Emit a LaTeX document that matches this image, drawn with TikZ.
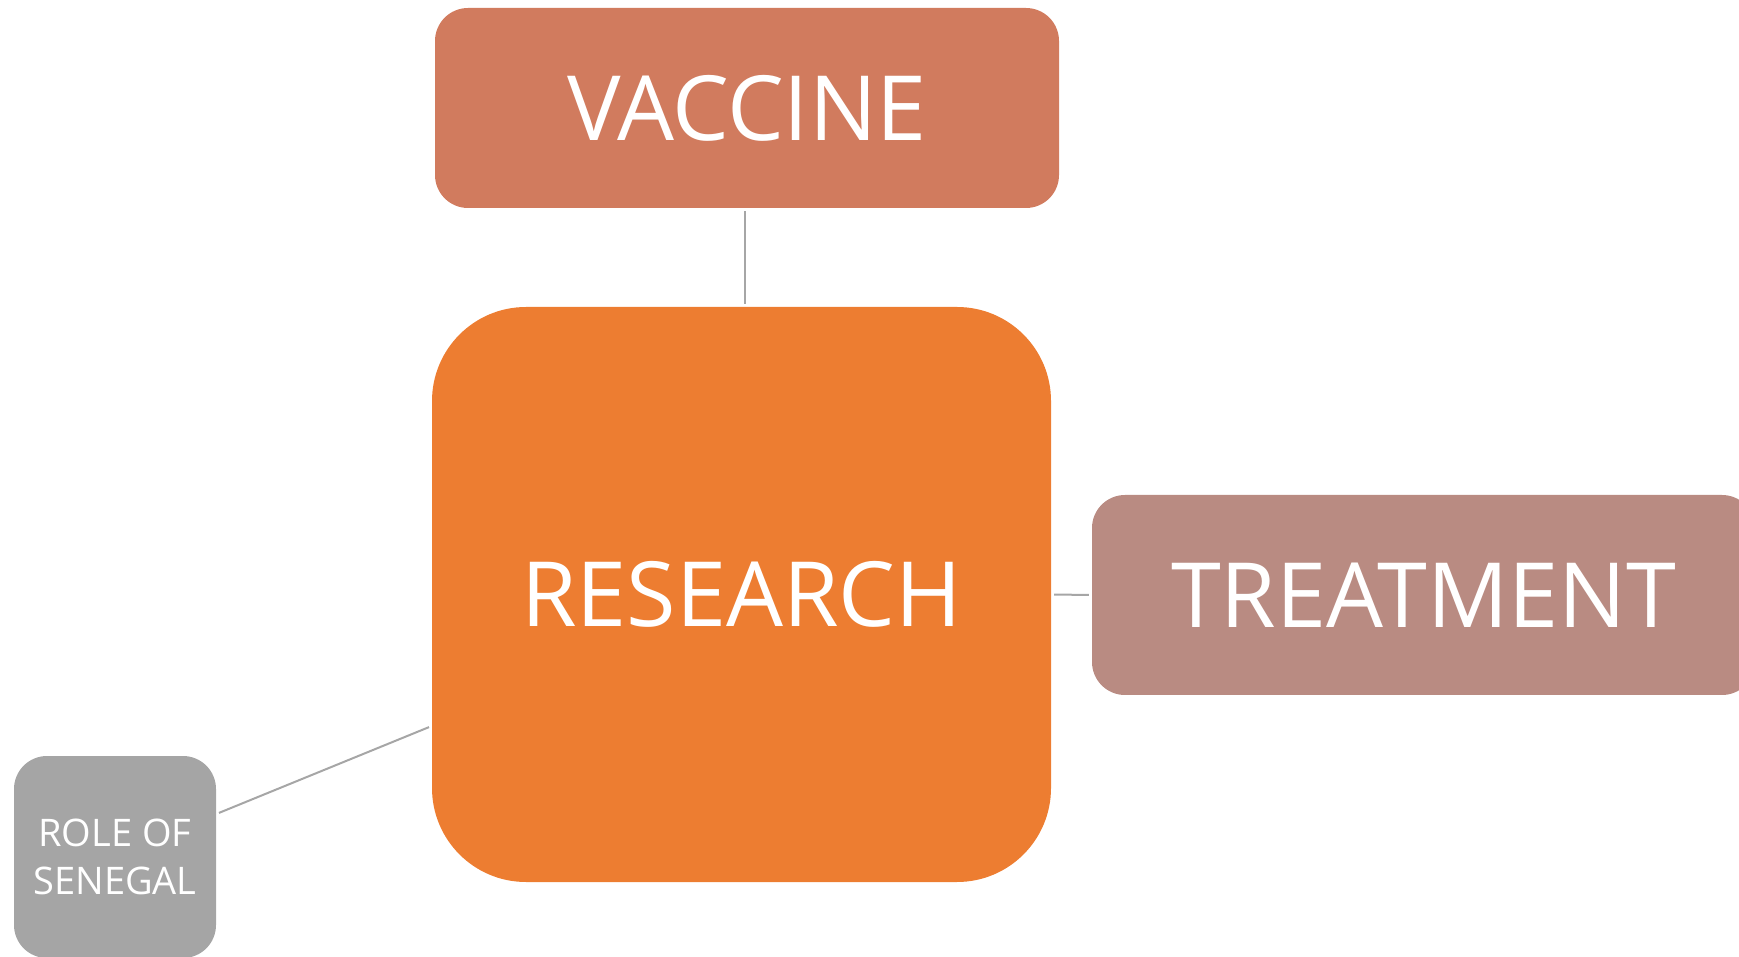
\documentclass[tikz,border=0pt]{standalone}
\usepackage{fontspec}
\setmainfont{Open Sans}
\usetikzlibrary{calc}
\definecolor{vaccinecol}{RGB}{209,123,94}
\definecolor{researchcol}{RGB}{237,125,49}
\definecolor{treatmentcol}{RGB}{185,139,130}
\definecolor{rolecol}{RGB}{165,165,165}
\definecolor{linkcol}{RGB}{166,166,166}
\newcommand{\bigtext}{\fontsize{90}{108}\selectfont}
\newcommand{\smalltext}{\fontsize{38}{48}\selectfont}

\begin{document}
\begin{tikzpicture}[x=1pt,y=1pt,
	topic/.style={rounded corners=33pt, text=white, inner sep=0pt, font=\bigtext},
	link/.style={draw=linkcol, line width=2pt, shorten <=3pt, shorten >=3pt}]
	\useasboundingbox (0,0) rectangle (1739,956);

	\node[topic, fill=vaccinecol, minimum width=624pt, minimum height=200pt] (vaccine) at (747,848) {VACCINE};
	\node[topic, fill=researchcol, rounded corners=94pt, minimum width=619pt, minimum height=575pt] (research) at (741.5,361.5) {RESEARCH};
	\node[topic, fill=treatmentcol, minimum width=663pt, minimum height=200pt] (treatment) at (1423.5,361) {TREATMENT};
	\node[topic, fill=rolecol, font=\smalltext, align=center, minimum width=202pt, minimum height=202pt] (role) at (115,99) {ROLE OF\\SENEGAL};

	\coordinate (vtop) at ([xshift=-2pt]vaccine.south);
	\draw[link] (vtop) -- (vtop |- research.north);
	\draw[link] (research.east) -- (treatment.west);
	\draw[link] (role.23) -- (research.203);

\end{tikzpicture}
\end{document}
